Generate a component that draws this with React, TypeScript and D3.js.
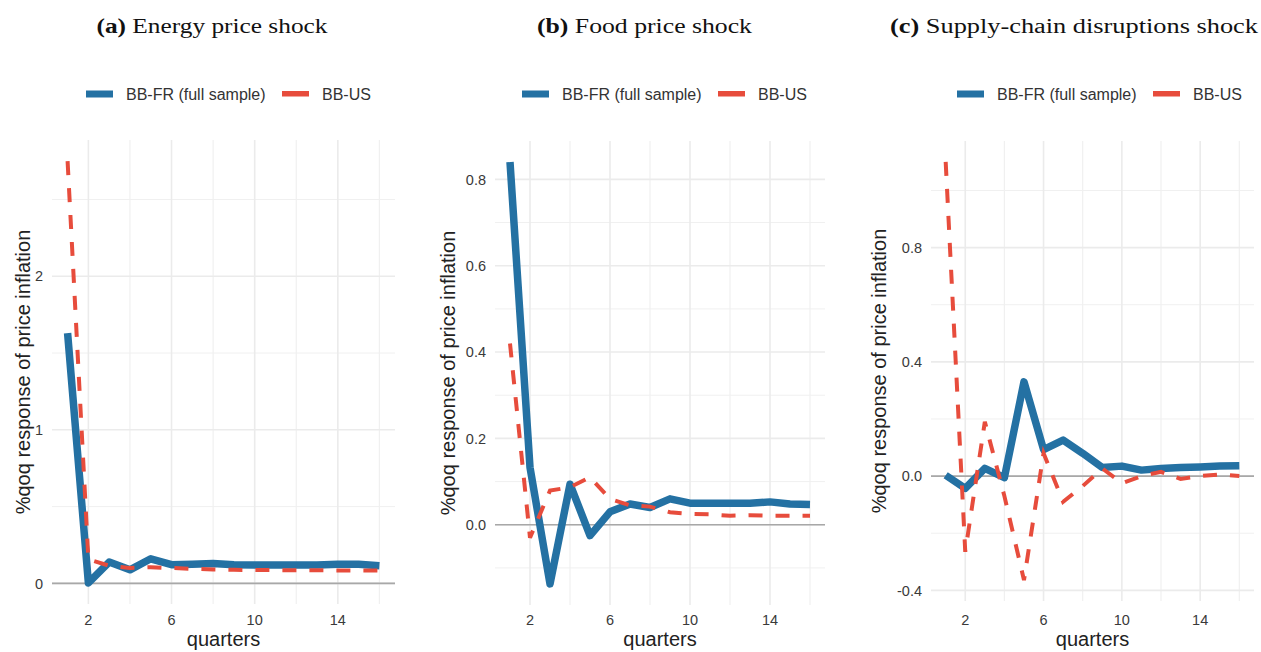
import * as d3 from "d3";

const quarters = [1, 2, 3, 4, 5, 6, 7, 8, 9, 10, 11, 12, 13, 14, 15, 16];

// BB-FR (full sample) / BB-US impulse responses
const energyFR = [1.63, 0.003, 0.139, 0.088, 0.16, 0.122, 0.125, 0.13, 0.122, 0.12, 0.12, 0.12, 0.12, 0.125, 0.124, 0.115];
const energyUS = [2.75, 0.156, 0.115, 0.1, 0.105, 0.1, 0.095, 0.09, 0.088, 0.087, 0.086, 0.085, 0.085, 0.084, 0.084, 0.083];
const foodFR = [0.84, 0.133, -0.137, 0.094, -0.025, 0.03, 0.048, 0.04, 0.06, 0.05, 0.05, 0.05, 0.05, 0.053, 0.048, 0.047];
const foodUS = [0.42, -0.03, 0.079, 0.087, 0.11, 0.06, 0.045, 0.042, 0.029, 0.025, 0.024, 0.021, 0.022, 0.021, 0.021, 0.021];
const supplyFR = [0.003, -0.043, 0.027, -0.005, 0.33, 0.093, 0.126, 0.08, 0.03, 0.035, 0.021, 0.027, 0.03, 0.032, 0.035, 0.036];
const supplyUS = [1.10, -0.265, 0.19, -0.07, -0.364, 0.08, -0.09, -0.035, 0.027, -0.025, 0.0, 0.015, -0.01, 0.0, 0.006, 0.0];

const xMajor = [2, 6, 10, 14];
const xMinor = [4, 8, 12, 16];

const seriesNames = ["BB-FR (full sample)", "BB-US"];
const BLUE = "#2471a3";
const RED = "#e74c3c";
const FONT = "'Liberation Sans', Arial, sans-serif";

interface PanelProps {
  tag: string;
  title: string;
  fr: number[];
  us: number[];
  yMajor: number[];
  yMinor: number[];
  fmt: (v: number) => string;
  left: number; right: number; top: number; bottom: number;
  titleX: number; titleW: number;
  legendX: number;
  yTitleOff: number;
}

function Panel(p: PanelProps) {
  const all = [...p.fr, ...p.us];
  const lo = d3.min(all)!, hi = d3.max(all)!;
  const pad = (hi - lo) * 0.05;
  const x = d3.scaleLinear().domain([0.25, 16.75]).range([p.left, p.right]);
  const y = d3.scaleLinear().domain([lo - pad, hi + pad]).range([p.bottom, p.top]);
  const line = d3.line<number>().x((_, i) => x(quarters[i])).y(d => y(d));

  return (
    <g>
      <text x={p.titleX} y={33} textAnchor="middle" fontFamily="'Liberation Serif', serif" fontSize={20}
        fill="#111" textLength={p.titleW} lengthAdjust="spacingAndGlyphs">
        <tspan fontWeight="bold">{p.tag}</tspan> {p.title}
      </text>

      {/* legend */}
      <g fontFamily={FONT} fontSize={16} fill="#333">
        <rect x={p.legendX} y={90.5} width={27} height={7} fill={BLUE} />
        <text x={p.legendX + 40} y={99.5}>{seriesNames[0]}</text>
        <rect x={p.legendX + 196} y={91} width={27} height={5.5} fill={RED} />
        <text x={p.legendX + 236} y={99.5}>{seriesNames[1]}</text>
      </g>

      {/* grid */}
      {p.yMinor.map(v => (
        <line key={"ym" + v} x1={p.left} x2={p.right} y1={y(v)} y2={y(v)} stroke="#f0f0f0" strokeWidth={1} />
      ))}
      {xMinor.map(v => (
        <line key={"xm" + v} x1={x(v)} x2={x(v)} y1={p.top} y2={p.bottom} stroke="#f0f0f0" strokeWidth={1.2} />
      ))}
      {p.yMajor.map(v => (
        <line key={"yM" + v} x1={p.left} x2={p.right} y1={y(v)} y2={y(v)} stroke="#ebebeb" strokeWidth={1.6} />
      ))}
      {xMajor.map(v => (
        <line key={"xM" + v} x1={x(v)} x2={x(v)} y1={p.top} y2={p.bottom} stroke="#ebebeb" strokeWidth={1.6} />
      ))}
      <line x1={p.left} x2={p.right} y1={y(0)} y2={y(0)} stroke="#a8a8a8" strokeWidth={1.6} />

      {/* series */}
      <path d={line(p.fr)!} fill="none" stroke={BLUE} strokeWidth={7.5} strokeLinejoin="round" />
      <path d={line(p.us)!} fill="none" stroke={RED} strokeWidth={4} strokeDasharray="14 13" />

      {/* axes text */}
      <g fontFamily={FONT} fontSize={14.5} fill="#3a3a3a">
        {p.yMajor.map(v => (
          <text key={"yl" + v} x={p.left - 9} y={y(v)} dy="0.36em" textAnchor="end">{p.fmt(v)}</text>
        ))}
        {xMajor.map(v => (
          <text key={"xl" + v} x={x(v)} y={625} textAnchor="middle">{v}</text>
        ))}
      </g>
      <text x={(p.left + p.right) / 2} y={646} textAnchor="middle" fontFamily={FONT} fontSize={20} fill="#222">quarters</text>
      <text transform={`translate(${p.left - p.yTitleOff},${(p.top + p.bottom) / 2}) rotate(-90)`}
        textAnchor="middle" fontFamily={FONT} fontSize={20} fill="#222">%qoq response of price inflation</text>
    </g>
  );
}

const f0 = d3.format("d");
const f1 = (v: number) => d3.format(".1f")(v).replace("−", "-");

export default function App() {
  return (
    <svg width={1261} height={652} style={{ position: "absolute", left: 0, top: 0, background: "#fff" }}>
      <Panel tag="(a)" title="Energy price shock" fr={energyFR} us={energyUS}
        yMajor={[0, 1, 2]} yMinor={[0.5, 1.5, 2.5]} fmt={f0}
        left={52} right={395} top={140} bottom={604}
        titleX={212} titleW={231} legendX={86} yTitleOff={22} />
      <Panel tag="(b)" title="Food price shock" fr={foodFR} us={foodUS}
        yMajor={[0, 0.2, 0.4, 0.6, 0.8]} yMinor={[-0.1, 0.1, 0.3, 0.5, 0.7]} fmt={f1}
        left={495} right={825} top={141} bottom={605}
        titleX={644.5} titleW={215} legendX={522} yTitleOff={40} />
      <Panel tag="(c)" title="Supply-chain disruptions shock" fr={supplyFR} us={supplyUS}
        yMajor={[-0.4, 0, 0.4, 0.8]} yMinor={[-0.2, 0.2, 0.6, 1.0]} fmt={f1}
        left={931} right={1254} top={141} bottom={601}
        titleX={1074} titleW={368} legendX={957} yTitleOff={45} />
    </svg>
  );
}
